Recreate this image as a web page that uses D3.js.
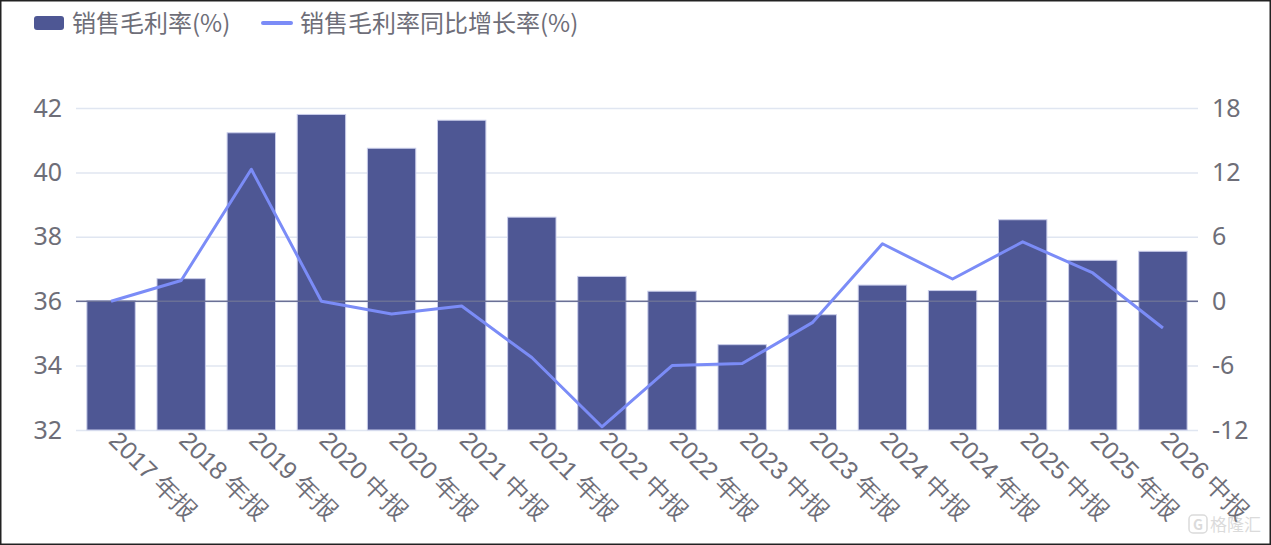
<!DOCTYPE html>
<html>
<head>
<meta charset="utf-8">
<script src="https://cdn.jsdelivr.net/npm/d3@7"></script>
<style>
  body { margin: 0; background: #fff; }
  svg { display: block; font-family: "Noto Sans CJK SC", "Noto Sans", sans-serif; }
</style>
</head>
<body>
<div class="graph"></div>
<script>
'use strict'

// data
const periods = ['2017 年报', '2018 年报', '2019 年报', '2020 中报', '2020 年报', '2021 中报', '2021 年报',
  '2022 中报', '2022 年报', '2023 中报', '2023 年报', '2024 中报', '2024 年报', '2025 中报', '2025 年报', '2026 中报']
const grossMargin = [36.02, 36.70, 41.23, 41.80, 40.75, 41.62, 38.61, 36.77, 36.31, 34.65, 35.58, 36.50, 36.33, 38.53, 37.27, 37.55]
const marginYoY = [0.0, 1.93, 12.29, 0.0, -1.2, -0.45, -5.25, -11.7, -6.0, -5.81, -2.0, 5.35, 2.07, 5.53, 2.63, -2.5]
const leftTicks = [32, 34, 36, 38, 40, 42]
const rightTicks = [-12, -6, 0, 6, 12, 18]
const seriesNames = ['销售毛利率(%)', '销售毛利率同比增长率(%)']

const width = 1271, height = 545
const margin = { top: 108, right: 73, bottom: 115, left: 76 }
const plotW = width - margin.left - margin.right
const plotH = height - margin.top - margin.bottom

const barColor = '#4e5794'
const lineColor = '#7b8cf7'
const textColor = '#6e6e78'

const svg = d3.select('.graph').append('svg')
  .attr('width', width)
  .attr('height', height)

// outer frame
svg.append('rect')
  .attr('x', 0.75).attr('y', 0.75)
  .attr('width', width - 1.5).attr('height', height - 1.5)
  .attr('fill', 'none')
  .attr('stroke', '#222')
  .attr('stroke-width', 1.5)

const g = svg.append('g').attr('transform', `translate(${margin.left},${margin.top})`)

const x = d3.scaleBand().domain(periods).range([0, plotW]).paddingInner(0.31).paddingOuter(0.155)
const xc = d3.scalePoint().domain(periods).range([0, plotW]).padding(0.5)
const yL = d3.scaleLinear().domain([32, 42]).range([plotH, 0])
const yR = d3.scaleLinear().domain([-12, 18]).range([plotH, 0])

// grid lines
g.append('g')
  .call(d3.axisLeft(yL).tickValues(leftTicks).tickSize(-plotW).tickFormat(''))
  .call(a => a.select('.domain').remove())
  .call(a => a.selectAll('line').attr('stroke', '#e0e6f1').attr('stroke-width', 1.5))

// left labels
g.append('g')
  .call(d3.axisLeft(yL).tickValues(leftTicks).tickSize(0).tickPadding(14).tickFormat(d => String(d)))
  .call(a => a.select('.domain').remove())
  .call(a => a.selectAll('text').attr('fill', textColor).style('font-size', '25px')
    .style('font-family', '"Noto Sans", sans-serif'))

// right labels
g.append('g')
  .attr('transform', `translate(${plotW},0)`)
  .call(d3.axisRight(yR).tickValues(rightTicks).tickSize(0).tickPadding(14).tickFormat(d => String(d)))
  .call(a => a.select('.domain').remove())
  .call(a => a.selectAll('text').attr('fill', textColor).style('font-size', '25px')
    .style('font-family', '"Noto Sans", sans-serif'))

// bars
g.selectAll('.bar')
  .data(periods)
  .join('rect')
  .attr('class', 'bar')
  .attr('x', d => x(d))
  .attr('width', x.bandwidth())
  .attr('y', (d, i) => yL(grossMargin[i]))
  .attr('height', (d, i) => plotH - yL(grossMargin[i]))
  .attr('fill', barColor)
  .attr('stroke', '#c9cdea')
  .attr('stroke-width', 1)

// zero line of the right axis
g.append('line')
  .attr('x1', 0).attr('x2', plotW)
  .attr('y1', yR(0)).attr('y2', yR(0))
  .attr('stroke', '#6a7096')
  .attr('stroke-width', 1.5)

// x axis labels, rotated
g.append('g')
  .attr('transform', `translate(0,${plotH})`)
  .call(d3.axisBottom(xc).tickSize(0).tickPadding(0))
  .call(a => a.select('.domain').remove())
  .selectAll('text')
  .attr('fill', textColor)
  .style('font-size', '25px')
  .style('text-anchor', 'start')
  .attr('dy', 0)
  .attr('transform', 'translate(-4,12)rotate(45)')

// line series
const line = d3.line()
  .x((d, i) => xc(periods[i]))
  .y(d => yR(d))

g.append('path')
  .datum(marginYoY)
  .attr('d', line)
  .attr('fill', 'none')
  .attr('stroke', lineColor)
  .attr('stroke-width', 3)
  .attr('stroke-linejoin', 'round')

// legend
const legend = svg.append('g')
legend.append('rect')
  .attr('x', 34).attr('y', 16).attr('width', 30).attr('height', 14).attr('rx', 3)
  .attr('fill', barColor)
legend.append('text')
  .attr('x', 72).attr('y', 32)
  .attr('fill', textColor).style('font-size', '24px')
  .text(seriesNames[0])
legend.append('line')
  .attr('x1', 263).attr('x2', 291).attr('y1', 23).attr('y2', 23)
  .attr('stroke', lineColor).attr('stroke-width', 4).attr('stroke-linecap', 'round')
legend.append('text')
  .attr('x', 300).attr('y', 32)
  .attr('fill', textColor).style('font-size', '24px')
  .text(seriesNames[1])

// watermark
const wm = svg.append('g').attr('opacity', 0.35)
wm.append('rect')
  .attr('x', 1189).attr('y', 515).attr('width', 18).attr('height', 18).attr('rx', 4)
  .attr('fill', 'none').attr('stroke', '#999').attr('stroke-width', 1.5)
wm.append('text')
  .attr('x', 1198).attr('y', 530).attr('text-anchor', 'middle')
  .attr('fill', '#999').style('font-size', '14px').style('font-weight', 'bold')
  .text('G')
wm.append('text')
  .attr('x', 1210).attr('y', 531)
  .attr('fill', '#999').style('font-size', '17px')
  .text('格隆汇')
</script>
</body>
</html>
